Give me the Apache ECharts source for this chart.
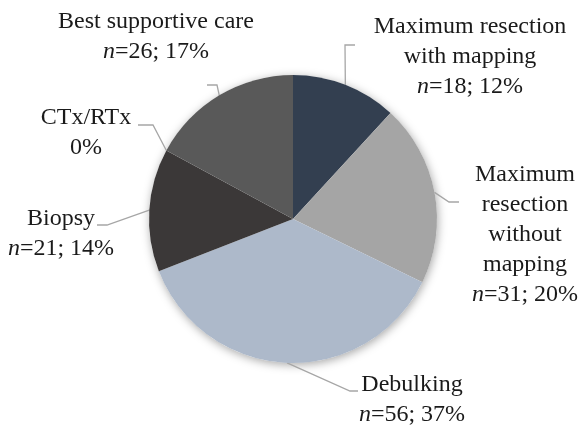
<!DOCTYPE html>
<html>
<head>
<meta charset="utf-8">
<script src="https://cdn.jsdelivr.net/npm/echarts@6/dist/echarts.min.js"></script>
<style>
html,body{margin:0;padding:0;background:#fff;}
#chart{width:580px;height:427px;}
</style>
</head>
<body>
<div id="chart"></div>
<script>
var categories = ['Maximum resection with mapping', 'Maximum resection without mapping', 'Debulking', 'Biopsy', 'CTx/RTx', 'Best supportive care'];
var labelNames = ['Maximum resection\nwith mapping', 'Maximum\nresection\nwithout\nmapping', 'Debulking', 'Biopsy', 'CTx/RTx', 'Best supportive care'];
var counts = [18, 31, 56, 21, 0, 26];
var colors = ['#333f50', '#a5a5a5', '#adb9ca', '#3b3838', '#7f7f7f', '#595959'];

var total = counts.reduce(function (a, b) { return a + b; }, 0);

// label placement (style/layout only)
var labelPos = [
  {x: 470, y: 57,  bend: [345, 45],  end: [355, 45]},
  {x: 525, y: 235, bend: [449, 202], end: [459, 202]},
  {x: 412, y: 400, bend: [350, 391], end: [358, 391]},
  {x: 61,  y: 234, bend: [107, 225], end: [97, 225]},
  {x: 86,  y: 133, bend: [153, 125], end: [138, 125]},
  {x: 156, y: 37,  bend: [217, 85],  end: [207, 85]}
];

var FONT = "'Liberation Serif', 'DejaVu Serif', serif";
var FS = 24;
var chart = echarts.init(document.getElementById('chart'), null, {renderer: 'canvas'});
chart.setOption({
  animation: false,
  backgroundColor: '#fff',
  series: [
    {
      type: 'pie',
      silent: true,
      center: [293, 219],
      radius: 144,
      z: 1,
      label: {show: false},
      labelLine: {show: false},
      itemStyle: {color: '#ffffff', shadowBlur: 10, shadowColor: 'rgba(0,0,0,0.35)', shadowOffsetX: 1, shadowOffsetY: 2},
      data: [total]
    },
    {
      type: 'pie',
      z: 2,
      center: [293, 219],
      radius: 144,
      startAngle: 90,
      clockwise: true,
      minShowLabelAngle: 0,
      stillShowZeroSum: true,
      avoidLabelOverlap: false,
      data: categories.map(function (c, i) {
        return {name: c, value: counts[i], itemStyle: {color: colors[i]}};
      }),
      itemStyle: {borderWidth: 0},
      label: {
        show: true,
        position: 'outside',
        fontFamily: FONT,
        fontSize: FS,
        lineHeight: 30,
        color: '#1a1a1a',
        align: 'center',
        formatter: function (p) {
          var i = p.dataIndex;
          var pct = Math.round(counts[i] / total * 100);
          var second = counts[i] > 0 ? '{i|n}=' + counts[i] + '; ' + pct + '%' : pct + '%';
          return labelNames[i] + '\n' + second;
        },
        rich: {
          i: {fontFamily: FONT, fontStyle: 'italic', fontSize: FS, lineHeight: 30, color: '#1a1a1a'}
        }
      },
      labelLine: {
        show: true,
        length: 15,
        length2: 10,
        lineStyle: {color: '#a6a6a6', width: 1.3}
      },
      labelLayout: function (params) {
        var lp = labelPos[params.dataIndex];
        var start = params.labelLinePoints ? params.labelLinePoints[0] : lp.bend;
        return {
          x: lp.x,
          y: lp.y,
          align: 'center',
          verticalAlign: 'middle',
          labelLinePoints: [start, lp.bend, lp.end]
        };
      }
    }
  ]
});
</script>
</body>
</html>
